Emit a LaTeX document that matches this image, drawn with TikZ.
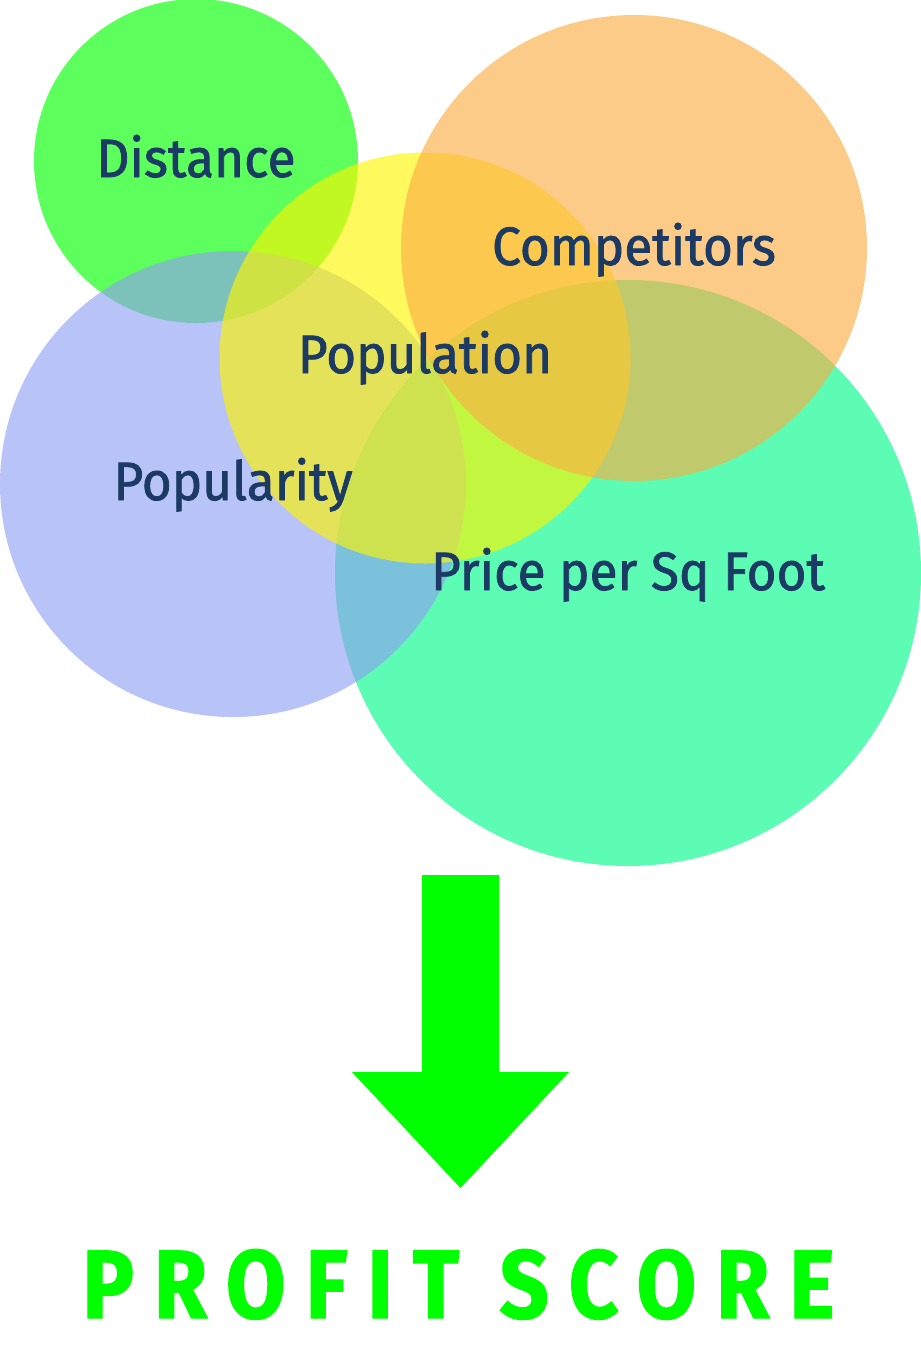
\documentclass[tikz,border=0pt]{standalone}
\usepackage{fontspec}
\setmainfont{Fira Sans}
\newfontfamily\lblfont[FakeStretch=0.95,FakeBold=1.4]{Fira Sans}
\newfontfamily\scorefont[LetterSpace=20.5,FakeStretch=0.89,FakeBold=1.2]{Fira Sans Bold}
\usepackage{tikz}
\usetikzlibrary{positioning}
\definecolor{distc}{RGB}{0,255,0}
\definecolor{compc}{RGB}{251,173,69}
\definecolor{popnc}{RGB}{253,245,0}
\definecolor{poplc}{RGB}{144,161,242}
\definecolor{pricec}{RGB}{0,250,137}
\definecolor{navy}{RGB}{27,58,100}
\definecolor{brightgreen}{RGB}{0,255,0}
\tikzset{
  bubble/.style={circle, draw=none, inner sep=0pt, fill opacity=0.64},
  lbl/.style={font=\lblfont\fontsize{54}{60}\selectfont, text=navy, anchor=base, inner sep=0pt},
  bigarrow/.style={fill=brightgreen, draw=none},
  score/.style={font=\scorefont\fontsize{97}{110}\selectfont, text=brightgreen, anchor=base, inner sep=0pt},
}
\begin{document}
\begin{tikzpicture}[x=1pt,y=-1pt]
  \useasboundingbox (0,0) rectangle (921,1350);

  % circles, back to front
  \node[bubble, fill=pricec, minimum size=586pt] (price) at (628,573) {};
  \node[bubble, fill=distc, minimum size=324pt] (dist) at (196,161) {};
  \node[bubble, fill=poplc, minimum size=466pt] (popl) at (233,484) {};
  \node[bubble, fill=popnc, minimum size=411pt] (popn) at (425,358) {};
  \node[bubble, fill=compc, minimum size=466pt] (comp) at (634,248) {};

  % labels
  \node[lbl] (distlbl) at ([yshift=-16pt]dist.center) {Distance};
  \node[lbl] (complbl) at ([yshift=-17pt]comp.center) {Competitors};
  \node[lbl] (popnlbl) at ([yshift=-15pt]popn.center) {Population};
  \node[lbl] (popllbl) at ([yshift=-16pt]popl.center) {Popularity};
  \node[lbl] (pricelbl) at ([yshift=-17pt]price.center) {Price per Sq Foot};

  % arrow and result
  \fill[bigarrow] (422,875) -- (499,875) -- (499,1072) -- (569,1072)
    -- (460.5,1188) -- (352,1072) -- (422,1072) -- cycle;
  \node[score] (result) at (458.5,1318) {PROFIT SCORE};
\end{tikzpicture}
\end{document}
